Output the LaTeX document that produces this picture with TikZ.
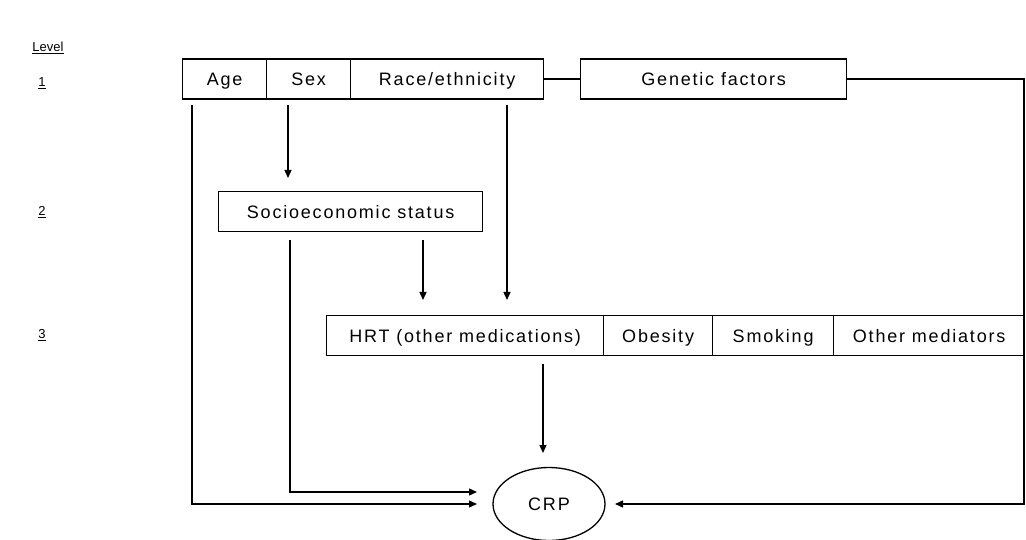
\documentclass[tikz,border=0pt]{standalone}
\usepackage{fontspec}
\setmainfont{Liberation Sans}[LetterSpace=10]
\newfontfamily\lvlfont{Liberation Sans}
\usetikzlibrary{arrows.meta,shapes.geometric}
\begin{document}
\begin{tikzpicture}[x=1pt,y=-1pt,
  box/.style={draw, line width=1.3pt, inner sep=0pt, anchor=north west,
    text height=13pt, text depth=0pt,
    font=\fontsize{18}{21}\selectfont},
  lvl/.style={font=\lvlfont\fontsize{13}{15}\selectfont},
  conn/.style={line width=1.3pt},
  arr/.style={line width=1.3pt, -{Triangle[length=8pt,width=7pt]}}]
\useasboundingbox (0,0) rectangle (1026,540);
% level labels
\node[lvl] (level) at (48,48) {\underline{Level}};
\node[lvl] (l1) at (42,83) {\underline{1}};
\node[lvl] (l2) at (42,212) {\underline{2}};
\node[lvl] (l3) at (42,335) {\underline{3}};
% level 1
\node[box, minimum width=84pt, minimum height=40pt] (age) at (182,58.5) {Age};
\node[box, minimum width=84pt, minimum height=40pt] (sex) at (266,58.5) {Sex};
\node[box, minimum width=193pt, minimum height=40pt] (race) at (350,58.5) {Race/ethnicity};
\node[box, minimum width=266pt, minimum height=40pt] (gen) at (580,58.5) {Genetic factors};
% level 2
\node[box, minimum width=264pt, minimum height=40pt] (ses) at (218,191) {Socioeconomic status};
% level 3
\node[box, minimum width=277pt, minimum height=40pt] (hrt) at (326,315) {HRT (other medications)};
\node[box, minimum width=109pt, minimum height=40pt] (obe) at (603,315) {Obesity};
\node[box, minimum width=121pt, minimum height=40pt] (smo) at (712,315) {Smoking};
\node[box, minimum width=191pt, minimum height=40pt] (oth) at (833,315) {Other mediators};
% CRP
\node[draw, line width=1.3pt, ellipse, minimum width=112pt, minimum height=73pt, inner sep=0pt,
  text height=13pt, text depth=0pt,
  font=\fontsize{18}{21}\selectfont] (crp) at (549,504) {CRP};
% helper coordinates
\coordinate (sexend) at (288,178);
\coordinate (raceend) at (507,300);
\coordinate (sesend) at (423,300);
\coordinate (hrtend) at (543,453);
\coordinate (crpl1) at (477,492);
\coordinate (crpl2) at (477,504);
\coordinate (crpr) at (615,504);
\coordinate (rx) at (1024,0);
% connectors
\draw[conn] (race.east) -- (gen.west);
\draw[arr] ([yshift=-5pt]sex.south -| sexend) -- (sexend);
\draw[arr] ([yshift=-5pt]race.south -| raceend) -- (raceend);
\draw[arr] ([yshift=-8pt]ses.south -| sesend) -- (sesend);
\draw[arr] ([yshift=-8pt]hrt.south -| hrtend) -- (hrtend);
\draw[arr] ([yshift=-8pt]ses.south -| 290,0) |- (crpl1);
\draw[arr] ([yshift=-5pt]age.south -| 192,0) |- (crpl2);
\draw[arr] (gen.east) -- (gen.east -| rx) |- (crpr);
\end{tikzpicture}
\end{document}
